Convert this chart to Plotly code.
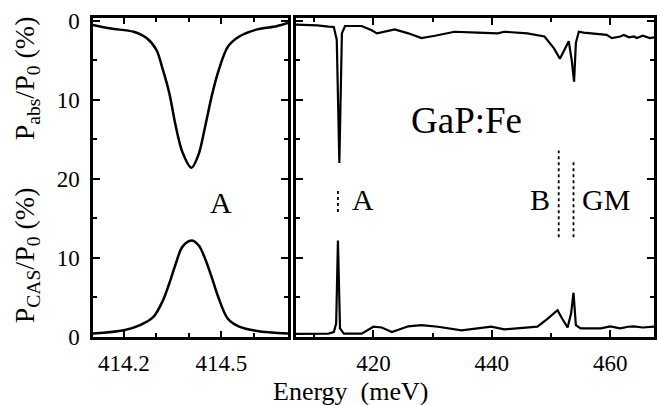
import plotly.graph_objects as go

# ---------------- data ----------------
# left panel: zoom on line A
e_left = [414.105, 414.16, 414.23, 414.27, 414.30, 414.32, 414.34, 414.36, 414.38,
          414.408, 414.43, 414.45, 414.47, 414.49, 414.52, 414.555,
          414.61, 414.67, 414.705]
pabs_left = [0.55, 1.0, 1.4, 2.2, 3.7, 6.2, 9.2, 13.4, 16.6,
             18.6, 16.9, 13.4, 9.6, 6.5, 3.3, 2.0,
             1.1, 0.7, 0.3]
e_left_cas = [414.105, 414.20, 414.25, 414.29, 414.32, 414.34, 414.36, 414.38,
              414.408, 414.43, 414.45, 414.47, 414.49, 414.52, 414.555, 414.61, 414.705]
cas_left = [0.43, 0.85, 1.5, 2.5, 4.6, 6.8, 9.3, 11.4,
            12.2, 11.6, 9.9, 7.6, 5.1, 2.3, 1.3, 0.76, 0.43]

# right panel: wide scan
e_right = [406.9, 409.0, 410.5, 412.4, 413.3, 413.8, 414.24, 414.67, 415.2, 418.0,
           419.7, 420.6, 422.0, 423.6, 425.9, 428.1, 430.4, 433.7, 437.6, 441.0,
           442.1, 446.0, 448.9, 450.5, 451.5, 452.3, 453.0, 453.5, 453.9, 454.2,
           454.7, 455.5, 457.3, 459.4, 460.3, 461.7, 462.3, 463.2, 464.0, 464.5,
           465.5, 466.7, 467.4]
pabs_right = [0.5, 0.55, 0.6, 0.75, 0.8, 2.4, 18.0, 1.6, 0.67, 0.67,
              1.2, 1.6, 1.4, 1.1, 1.6, 2.2, 1.9, 1.4, 1.5, 1.6,
              1.4, 1.6, 2.0, 3.5, 4.8, 3.7, 2.6, 5.0, 7.7, 2.8,
              1.4, 1.5, 1.6, 1.8, 2.2, 2.0, 1.8, 2.1, 2.0, 2.2,
              1.9, 2.2, 2.1]
e_right_cas = [406.9, 410.0, 412.4, 413.3, 413.7, 414.0, 414.35, 415.0, 418.0, 420.0,
               421.4, 423.1, 425.9, 428.1, 430.9, 434.9, 439.9, 442.1, 447.7, 449.4,
               451.1, 451.9, 452.8, 453.4, 453.8, 454.2, 455.0, 458.4, 460.0, 461.7,
               463.0, 464.0, 465.5, 467.4]
cas_right = [0.4, 0.45, 0.43, 0.63, 1.7, 12.2, 1.1, 0.43, 0.43, 1.3,
             1.2, 0.63, 1.35, 1.5, 1.3, 0.85, 1.3, 0.96, 1.3, 2.3,
             3.4, 2.3, 1.2, 3.0, 5.6, 1.5, 1.1, 1.1, 1.35, 1.1,
             1.3, 1.35, 1.2, 1.3]

# shared vertical scale: CAS grows upward from 0, absorption drawn downward from the top
Y_TOP = 40.0
ytick_vals = [0, 10, 20, 30, 40]
ytick_text = ["0", "10", "20", "10", "0"]
ytick_minor = [5, 15, 25, 35]
xl_tick_vals = [414.2, 414.5]
xl_tick_text = ["414.2", "414.5"]
xl_tick_minor = [414.3, 414.4, 414.6]
xr_tick_vals = [420, 440, 460]
xr_tick_text = ["420", "440", "460"]
xr_tick_minor = [410, 430, 450]

# dotted marker lines (energy, y-from, y-to)
markers = [(414.0, 15.8, 18.8), (451.3, 12.6, 23.6), (453.8, 12.6, 22.4)]

FONT = "Liberation Serif, Times New Roman, serif"
LW = 2.5

fig = go.Figure()
fig.add_trace(go.Scatter(x=e_left, y=[Y_TOP - v for v in pabs_left], mode="lines",
                         line=dict(color="black", width=LW, shape="spline", smoothing=0.9),
                         xaxis="x", yaxis="y", showlegend=False))
fig.add_trace(go.Scatter(x=e_left_cas, y=cas_left, mode="lines",
                         line=dict(color="black", width=LW, shape="spline", smoothing=0.9),
                         xaxis="x", yaxis="y", showlegend=False))
fig.add_trace(go.Scatter(x=e_right, y=[Y_TOP - v for v in pabs_right], mode="lines",
                         line=dict(color="black", width=2.2),
                         xaxis="x2", yaxis="y2", showlegend=False))
fig.add_trace(go.Scatter(x=e_right_cas, y=cas_right, mode="lines",
                         line=dict(color="black", width=2.2),
                         xaxis="x2", yaxis="y2", showlegend=False))
for (ex, y0, y1) in markers:
    fig.add_trace(go.Scatter(x=[ex, ex], y=[y0, y1], mode="lines",
                             line=dict(color="black", width=1.8, dash="dot"),
                             xaxis="x2", yaxis="y2", showlegend=False))

L, T, B = 93, 18, 68
W, H = 657, 405
pw = W - L
ph = H - T - B
def px_x(p):
    return (p - L) / pw
def px_y(p):
    return (H - B - p) / ph

axis_common = dict(showline=True, linecolor="black", linewidth=LW, ticks="inside",
                   tickcolor="black", tickwidth=2, showgrid=False, zeroline=False,
                   mirror="ticks", tickfont=dict(family=FONT, size=23, color="black"))

def minor(vals):
    return dict(tickmode="array", tickvals=vals, ticklen=4, tickwidth=2,
                ticks="inside", tickcolor="black")

fig.update_layout(
    width=W, height=H, margin=dict(l=L, r=0, t=T, b=B),
    paper_bgcolor="white", plot_bgcolor="white",
    xaxis=dict(domain=[0, px_x(289)], range=[414.105, 414.705], anchor="y",
               tickmode="array", tickvals=xl_tick_vals, ticktext=xl_tick_text, ticklen=6,
               minor=minor(xl_tick_minor), ticklabelstandoff=4, **axis_common),
    yaxis=dict(domain=[0, 1], range=[0, 40.34], anchor="x",
               tickmode="array", tickvals=ytick_vals, ticktext=ytick_text, ticklen=7,
               minor=minor(ytick_minor), ticklabelstandoff=6, **axis_common),
    xaxis2=dict(domain=[px_x(297), 1], range=[406.9, 467.4], anchor="y2",
                tickmode="array", tickvals=xr_tick_vals, ticktext=xr_tick_text, ticklen=7,
                minor=minor(xr_tick_minor), ticklabelstandoff=4, **axis_common),
    yaxis2=dict(domain=[0, 1], range=[0, 40.34], anchor="x2", showticklabels=False,
                tickmode="array", tickvals=ytick_vals, ticklen=7,
                minor=minor(ytick_minor), **axis_common),
)

ann_font = dict(family=FONT, color="black")
fig.add_annotation(text="P<sub>abs</sub>/P<sub>0</sub> (%)", textangle=-90,
                   xref="paper", yref="paper", x=px_x(26), y=px_y(78),
                   xanchor="center", yanchor="middle", showarrow=False,
                   font=dict(size=28, **ann_font))
fig.add_annotation(text="P<sub>CAS</sub>/P<sub>0</sub> (%)", textangle=-90,
                   xref="paper", yref="paper", x=px_x(26), y=px_y(255),
                   xanchor="center", yanchor="middle", showarrow=False,
                   font=dict(size=28, **ann_font))
fig.add_annotation(text="Energy  (meV)", xref="paper", yref="paper",
                   x=px_x(352), y=px_y(391), xanchor="center", yanchor="middle",
                   showarrow=False, font=dict(size=26, **ann_font))
fig.add_annotation(text="A", xref="x", yref="y", x=414.5, y=17.0, showarrow=False,
                   font=dict(size=30, **ann_font))
fig.add_annotation(text="A", xref="x2", yref="y2", x=418.15, y=17.4, showarrow=False,
                   font=dict(size=30, **ann_font))
fig.add_annotation(text="B", xref="x2", yref="y2", x=448.2, y=17.4, showarrow=False,
                   font=dict(size=30, **ann_font))
fig.add_annotation(text="GM", xref="x2", yref="y2", x=459.3, y=17.4, showarrow=False,
                   font=dict(size=30, **ann_font))
fig.add_annotation(text="GaP:Fe", xref="x2", yref="y2", x=435.8, y=27.4, showarrow=False,
                   font=dict(size=37, **ann_font))

fig.write_html("out.html")
